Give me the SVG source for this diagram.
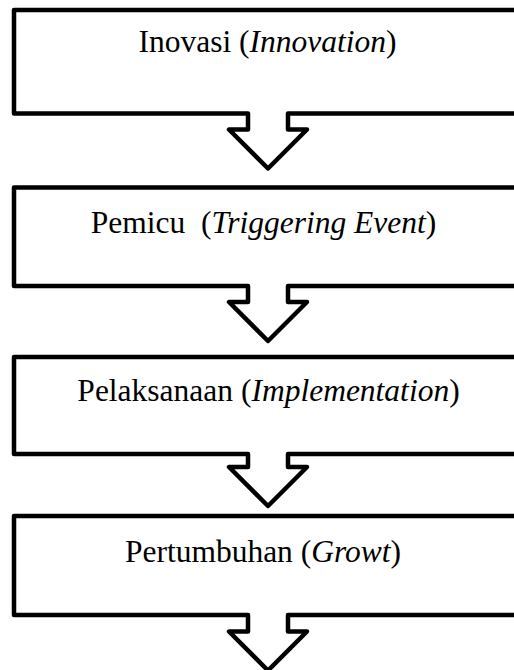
<svg xmlns="http://www.w3.org/2000/svg" width="514" height="670" viewBox="0 0 514 670">
<style>
.shape{fill:#ffffff;stroke:#000000;stroke-width:4.5;stroke-linejoin:round}
.lbl{font-family:"Liberation Serif","Times New Roman",serif;font-size:31.5px;fill:#000000;text-anchor:middle;white-space:pre}
.it{font-style:italic}
</style>
<rect width="514" height="670" fill="#ffffff"/>
<g id="node-inovasi">
<path class="shape" d="M14,10 H524 V113.5 H288 V129.5 H307 L268,168.5 L229,129.5 H248 V113.5 H14 Z"/>
<text class="lbl" x="267.5" y="52">Inovasi (<tspan class="it">Innovation</tspan>)</text>
</g>
<g id="node-pemicu">
<path class="shape" d="M14,187.5 H524 V286 H288 V302 H307 L268,341 L229,302 H248 V286 H14 Z"/>
<text class="lbl" x="263.5" y="233" xml:space="preserve">Pemicu  (<tspan class="it">Triggering Event</tspan>)</text>
</g>
<g id="node-pelaksanaan">
<path class="shape" d="M14,357 H524 V454 H288 V467 H307 L268,506 L229,467 H248 V454 H14 Z"/>
<text class="lbl" x="268.5" y="401">Pelaksanaan (<tspan class="it">Implementation</tspan>)</text>
</g>
<g id="node-pertumbuhan">
<path class="shape" d="M14,516 H524 V615 H288 V631.5 H307 L268,670.5 L229,631.5 H248 V615 H14 Z"/>
<text class="lbl" x="263" y="562">Pertumbuhan (<tspan class="it">Growt</tspan>)</text>
</g>
<g id="connectors"></g>
</svg>
